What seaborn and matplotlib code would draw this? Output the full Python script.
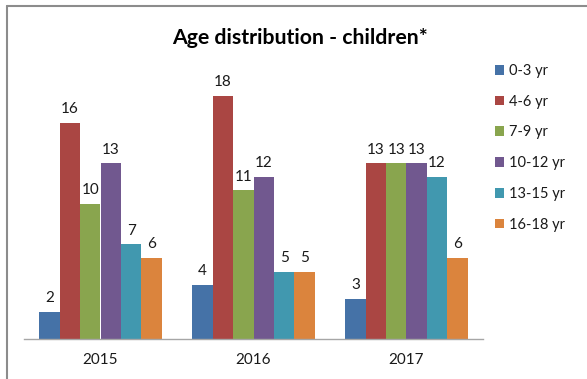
import matplotlib
matplotlib.use("Agg")
import matplotlib.pyplot as plt
import seaborn as sns
import pandas as pd
from matplotlib.lines import Line2D

years = ["2015", "2016", "2017"]
age_groups = ["0-3 yr", "4-6 yr", "7-9 yr", "10-12 yr", "13-15 yr", "16-18 yr"]
v_0_3 = [2, 4, 3]
v_4_6 = [16, 18, 13]
v_7_9 = [10, 11, 13]
v_10_12 = [13, 12, 13]
v_13_15 = [7, 5, 12]
v_16_18 = [6, 5, 6]
series = [v_0_3, v_4_6, v_7_9, v_10_12, v_13_15, v_16_18]
colors = ["#4572A7", "#AA4643", "#89A54E", "#71588F", "#4198AF", "#DB843D"]

rows = []
for g, vals in zip(age_groups, series):
    for y, v in zip(years, vals):
        rows.append({"year": y, "age": g, "count": v})
df = pd.DataFrame(rows)

sns.set_theme(style="white")
plt.rcParams["font.family"] = ["Lato", "DejaVu Sans"]

fig = plt.figure(figsize=(5.87, 3.79), dpi=100)
ax = fig.add_axes([24/587, 1-339/379, (483-24)/587, (339-69)/379])

sns.barplot(data=df, x="year", y="count", hue="age", hue_order=age_groups,
            order=years, palette=colors, width=0.8, linewidth=0, saturation=1,
            ax=ax, legend=True)

for cont in ax.containers:
    ax.bar_label(cont, padding=5, fontsize=11, color="#1a1a1a")

ax.set_ylim(0, 20)
ax.set_xlim(-0.5, 2.5)
ax.set_yticks([])
ax.set_xlabel("")
ax.set_ylabel("")
for s in ["left", "top", "right"]:
    ax.spines[s].set_visible(False)
ax.spines["bottom"].set_color("#A6A6A6")
ax.spines["bottom"].set_linewidth(1)
ax.set_xticks([-0.5, 0.5, 1.5, 2.5], minor=True)
ax.tick_params(axis="x", which="minor", length=5, color="#A6A6A6", width=1, direction="out")
ax.tick_params(axis="x", which="major", length=0, pad=10, labelsize=11, labelcolor="#1a1a1a")

handles, labels = ax.get_legend_handles_labels()
ax.legend(handles, labels, loc="upper left", bbox_to_anchor=(489/587, 1-58/379),
          bbox_transform=fig.transFigure, frameon=False, fontsize=10.5,
          handlelength=0.65, handleheight=0.65, handletextpad=0.35,
          labelspacing=1.15, borderaxespad=0, labelcolor="#1a1a1a")

fig.text(300/587, 1-38/379, "Age distribution - children*", ha="center", va="center",
         fontsize=15.3, fontweight="bold", color="black")

fig.add_artist(Line2D([7/587, 1], [1-5.5/379, 1-5.5/379], transform=fig.transFigure,
                      color="#8C8C8C", linewidth=1.5))
fig.add_artist(Line2D([7/587, 7/587], [0, 1-5.5/379], transform=fig.transFigure,
                      color="#8C8C8C", linewidth=1.5))

fig.savefig("out.png", dpi=100)
